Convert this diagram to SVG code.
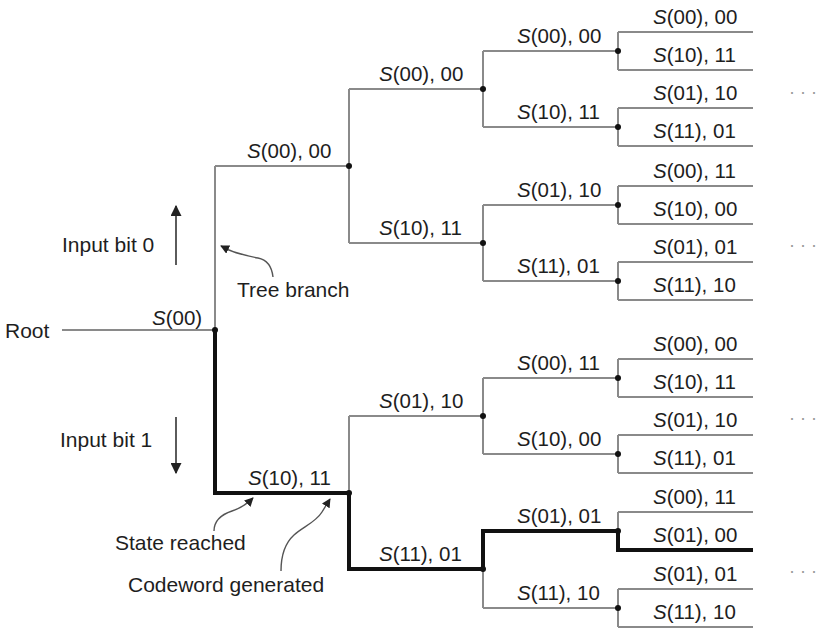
<svg xmlns="http://www.w3.org/2000/svg" width="822" height="631" viewBox="0 0 822 631">
  <style>
    .lbl { font-family: "Liberation Sans", Arial, sans-serif; font-size: 20.5px; fill: #1e1e1e; }
    .txt { font-family: "Liberation Sans", Arial, sans-serif; font-size: 21px; fill: #1e1e1e; }
    .it { font-style: italic; }
    .thin { fill: none; stroke: #8a8a8a; stroke-width: 2; }
    .thick { fill: none; stroke: #111; stroke-width: 4; stroke-linejoin: miter; stroke-linecap: square; }
    .dot { fill: #111; }
    .pointer { fill: none; stroke: #555; stroke-width: 1.4; }
    .bit { fill: none; stroke: #333; stroke-width: 1.6; }
    .more { font-family: "Liberation Sans", Arial, sans-serif; font-size: 18px; fill: #999; }
  </style>
  <defs>
    <marker id="head" viewBox="0 0 10 10" refX="9" refY="5" markerWidth="9" markerHeight="9" markerUnits="userSpaceOnUse" orient="auto">
      <path d="M0,0 L10,5 L0,10 Z" fill="#222"/>
    </marker>
    <marker id="bighead" viewBox="0 0 10 10" refX="9" refY="5" markerWidth="11" markerHeight="11" markerUnits="userSpaceOnUse" orient="auto">
      <path d="M0,0 L10,5 L0,10 Z" fill="#222"/>
    </marker>
  </defs>

  <!-- tree branches -->
  <g id="connectors">
    <g class="thin">
      <path d="M62,330 H215"/>
      <path d="M215,166 V493 M215,166 H349 M215,493 H349"/>
      <path d="M349,89 V243 M349,89 H483 M349,243 H483"/>
      <path d="M349,416 V569 M349,416 H483 M349,569 H483"/>
      <path d="M483,51 V127 M483,51 H618 M483,127 H618"/>
      <path d="M483,205 V281 M483,205 H618 M483,281 H618"/>
      <path d="M483,378 V454 M483,378 H618 M483,454 H618"/>
      <path d="M483,531 V608 M483,531 H618 M483,608 H618"/>
      <path d="M618,32 V70 M618,32 H753 M618,70 H753"/>
      <path d="M618,108 V146 M618,108 H753 M618,146 H753"/>
      <path d="M618,186 V224 M618,186 H753 M618,224 H753"/>
      <path d="M618,262 V300 M618,262 H753 M618,300 H753"/>
      <path d="M618,359 V397 M618,359 H753 M618,397 H753"/>
      <path d="M618,435 V473 M618,435 H753 M618,473 H753"/>
      <path d="M618,512 V550 M618,512 H753 M618,550 H753"/>
      <path d="M618,589 V627 M618,589 H753 M618,627 H753"/>
    </g>
    <!-- highlighted path for input 1,1,0,1 -->
    <path class="thick" d="M215,330 V493 H349 V569 H483 V531 H618 V550 H751"/>
  </g>

  <!-- root -->
  <g id="root">
    <text class="txt" x="5" y="338">Root</text>
    <circle class="dot" cx="215" cy="330" r="3"/>
    <text class="lbl" x="152" y="325"><tspan class="it">S</tspan>(00)</text>
  </g>

  <!-- level 1 -->
  <g id="n0">
    <circle class="dot" cx="349" cy="166" r="3"/>
    <text class="lbl" x="247" y="158"><tspan class="it">S</tspan>(00), 00</text>
  </g>
  <g id="n1">
    <circle class="dot" cx="349" cy="493" r="3"/>
    <text class="lbl" x="248" y="485"><tspan class="it">S</tspan>(10), 11</text>
  </g>

  <!-- level 2 -->
  <g id="n00">
    <circle class="dot" cx="483" cy="89" r="3"/>
    <text class="lbl" x="379" y="81"><tspan class="it">S</tspan>(00), 00</text>
  </g>
  <g id="n01">
    <circle class="dot" cx="483" cy="243" r="3"/>
    <text class="lbl" x="379" y="235"><tspan class="it">S</tspan>(10), 11</text>
  </g>
  <g id="n10">
    <circle class="dot" cx="483" cy="416" r="3"/>
    <text class="lbl" x="379" y="408"><tspan class="it">S</tspan>(01), 10</text>
  </g>
  <g id="n11">
    <circle class="dot" cx="483" cy="569" r="3"/>
    <text class="lbl" x="379" y="561"><tspan class="it">S</tspan>(11), 01</text>
  </g>

  <!-- level 3 -->
  <g id="n000">
    <circle class="dot" cx="618" cy="51" r="3"/>
    <text class="lbl" x="517" y="43"><tspan class="it">S</tspan>(00), 00</text>
  </g>
  <g id="n001">
    <circle class="dot" cx="618" cy="127" r="3"/>
    <text class="lbl" x="517" y="119"><tspan class="it">S</tspan>(10), 11</text>
  </g>
  <g id="n010">
    <circle class="dot" cx="618" cy="205" r="3"/>
    <text class="lbl" x="517" y="197"><tspan class="it">S</tspan>(01), 10</text>
  </g>
  <g id="n011">
    <circle class="dot" cx="618" cy="281" r="3"/>
    <text class="lbl" x="517" y="273"><tspan class="it">S</tspan>(11), 01</text>
  </g>
  <g id="n100">
    <circle class="dot" cx="618" cy="378" r="3"/>
    <text class="lbl" x="517" y="370"><tspan class="it">S</tspan>(00), 11</text>
  </g>
  <g id="n101">
    <circle class="dot" cx="618" cy="454" r="3"/>
    <text class="lbl" x="517" y="446"><tspan class="it">S</tspan>(10), 00</text>
  </g>
  <g id="n110">
    <circle class="dot" cx="618" cy="531" r="3"/>
    <text class="lbl" x="517" y="523"><tspan class="it">S</tspan>(01), 01</text>
  </g>
  <g id="n111">
    <circle class="dot" cx="618" cy="608" r="3"/>
    <text class="lbl" x="517" y="600"><tspan class="it">S</tspan>(11), 10</text>
  </g>

  <!-- level 4 (leaves) -->
  <g id="leaf0"><text class="lbl" x="653" y="24"><tspan class="it">S</tspan>(00), 00</text></g>
  <g id="leaf1"><text class="lbl" x="653" y="62"><tspan class="it">S</tspan>(10), 11</text></g>
  <g id="leaf2"><text class="lbl" x="653" y="100"><tspan class="it">S</tspan>(01), 10</text></g>
  <g id="leaf3"><text class="lbl" x="653" y="138"><tspan class="it">S</tspan>(11), 01</text></g>
  <g id="leaf4"><text class="lbl" x="653" y="178"><tspan class="it">S</tspan>(00), 11</text></g>
  <g id="leaf5"><text class="lbl" x="653" y="216"><tspan class="it">S</tspan>(10), 00</text></g>
  <g id="leaf6"><text class="lbl" x="653" y="254"><tspan class="it">S</tspan>(01), 01</text></g>
  <g id="leaf7"><text class="lbl" x="653" y="292"><tspan class="it">S</tspan>(11), 10</text></g>
  <g id="leaf8"><text class="lbl" x="653" y="351"><tspan class="it">S</tspan>(00), 00</text></g>
  <g id="leaf9"><text class="lbl" x="653" y="389"><tspan class="it">S</tspan>(10), 11</text></g>
  <g id="leaf10"><text class="lbl" x="653" y="427"><tspan class="it">S</tspan>(01), 10</text></g>
  <g id="leaf11"><text class="lbl" x="653" y="465"><tspan class="it">S</tspan>(11), 01</text></g>
  <g id="leaf12"><text class="lbl" x="653" y="504"><tspan class="it">S</tspan>(00), 11</text></g>
  <g id="leaf13"><text class="lbl" x="653" y="542"><tspan class="it">S</tspan>(01), 00</text></g>
  <g id="leaf14"><text class="lbl" x="653" y="581"><tspan class="it">S</tspan>(01), 01</text></g>
  <g id="leaf15"><text class="lbl" x="653" y="619"><tspan class="it">S</tspan>(11), 10</text></g>

  <!-- continuation marks -->
  <g id="continued">
    <text class="more" x="789" y="98">· · ·</text>
    <text class="more" x="789" y="251">· · ·</text>
    <text class="more" x="789" y="424">· · ·</text>
    <text class="more" x="789" y="577">· · ·</text>
  </g>

  <!-- input-bit legend -->
  <g id="input-bit-0">
    <text class="txt" x="62" y="252">Input bit 0</text>
    <path class="bit" d="M176,265 V206" marker-end="url(#bighead)"/>
  </g>
  <g id="input-bit-1">
    <text class="txt" x="60" y="447">Input bit 1</text>
    <path class="bit" d="M176,417 V473" marker-end="url(#bighead)"/>
  </g>

  <!-- callouts -->
  <g id="tree-branch">
    <text class="txt" x="237" y="297">Tree branch</text>
    <path class="pointer" d="M273,277 C272,268 268,260 258,258 C248,256 238,254 229,250 L221,246" marker-end="url(#head)"/>
  </g>
  <g id="state-reached">
    <text class="txt" x="115" y="550">State reached</text>
    <path class="pointer" d="M214,531 C214,522 220,515 232,511 C241,508 247,504 253,498" marker-end="url(#head)"/>
  </g>
  <g id="codeword-generated">
    <text class="txt" x="128" y="592">Codeword generated</text>
    <path class="pointer" d="M281,571 C281,559 283,545 294,535 C303,527 316,522 322,512 L330,499" marker-end="url(#head)"/>
  </g>
</svg>
